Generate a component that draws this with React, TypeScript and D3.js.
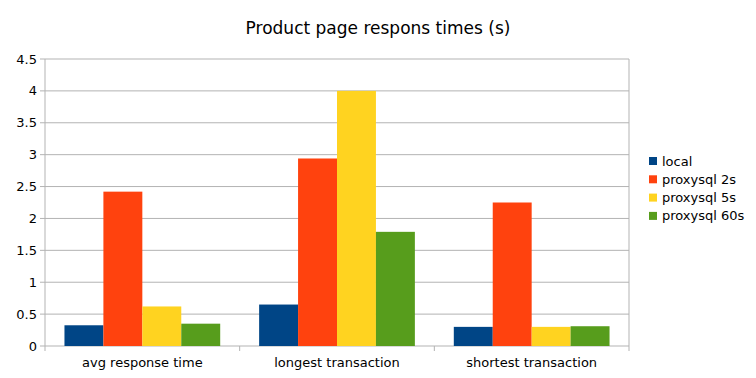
import React from "react";
import * as d3 from "d3";

const categories = ["avg response time", "longest transaction", "shortest transaction"];
const seriesNames = ["local", "proxysql 2s", "proxysql 5s", "proxysql 60s"];
const seriesColors = ["#004586", "#ff420e", "#ffd320", "#579d1c"];
const local = [0.325, 0.65, 0.3];
const proxy2s = [2.42, 2.94, 2.25];
const proxy5s = [0.62, 4.0, 0.3];
const proxy60s = [0.35, 1.79, 0.31];
const yTicks = [0, 0.5, 1, 1.5, 2, 2.5, 3, 3.5, 4, 4.5];
const title = "Product page respons times (s)";

const W = 756, H = 378;
const M = { left: 45, right: 629, top: 59, bottom: 346 };
const FONT = "DejaVu Sans, sans-serif";

export default function App() {
  const series = [local, proxy2s, proxy5s, proxy60s];
  const x = d3.scaleBand<string>().domain(categories).range([M.left, M.right]).paddingInner(0).paddingOuter(0);
  const y = d3.scaleLinear().domain([0, 4.5]).range([M.bottom, M.top]);
  const inner = d3.scaleBand<number>().domain(d3.range(series.length)).range([0, x.bandwidth()]).paddingOuter(0.5).paddingInner(0);
  const boundaries = [...categories.map((c) => x(c)!), M.right];
  return (
    <div style={{ position: "absolute", left: 0, top: 0 }}>
      <svg width={W} height={H} style={{ display: "block", background: "#fff" }}>
        <text x={378} y={34} textAnchor="middle" fontFamily={FONT} fontSize={17} fill="#000">{title}</text>
        {yTicks.map((t) => (
          <g key={t}>
            <line x1={M.left} x2={M.right} y1={y(t)} y2={y(t)} stroke="#b3b3b3" strokeWidth={1} />
            <line x1={M.left - 5} x2={M.left} y1={y(t)} y2={y(t)} stroke="#b3b3b3" strokeWidth={1} />
            <text x={M.left - 8} y={y(t)} dy="0.35em" textAnchor="end" fontFamily={FONT} fontSize={13} fill="#000">{String(t)}</text>
          </g>
        ))}
        <line x1={M.left} x2={M.left} y1={M.top} y2={M.bottom} stroke="#b3b3b3" />
        <line x1={M.right} x2={M.right} y1={M.top} y2={M.bottom} stroke="#b3b3b3" />
        {boundaries.map((b, i) => (
          <line key={i} x1={b} x2={b} y1={M.bottom} y2={M.bottom + 5} stroke="#b3b3b3" />
        ))}
        {categories.map((c, ci) => (
          <g key={c}>
            {series.map((s, si) => (
              <rect key={si} x={x(c)! + inner(si)!} width={inner.bandwidth()} y={y(s[ci])} height={y(0) - y(s[ci])} fill={seriesColors[si]} />
            ))}
            <text x={x(c)! + x.bandwidth() / 2} y={367} textAnchor="middle" fontFamily={FONT} fontSize={13} fill="#000">{c}</text>
          </g>
        ))}
        {seriesNames.map((n, i) => (
          <g key={n}>
            <rect x={649} y={157 + i * 18.3} width={8} height={8} fill={seriesColors[i]} />
            <text x={662} y={161 + i * 18.3} dy="0.35em" fontFamily={FONT} fontSize={13} fill="#000">{n}</text>
          </g>
        ))}
      </svg>
    </div>
  );
}
